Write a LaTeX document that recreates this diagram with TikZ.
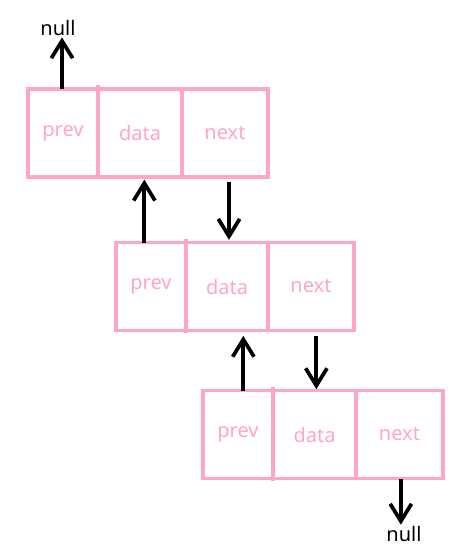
\documentclass[tikz,border=0pt]{standalone}
\usepackage{fontspec}
\setmainfont{Noto Sans}
\usetikzlibrary{arrows.meta, positioning}
\definecolor{listpink}{RGB}{255,166,198}
\tikzstyle{cell} = [rectangle, draw=listpink, line width=2.6pt, text=listpink, minimum height=66pt, outer sep=0pt, inner sep=0pt, font=\fontsize{15}{17}\selectfont]
\tikzstyle{divider} = [draw=listpink, line width=2.6pt]
\tikzstyle{link} = [line width=2.8pt, -{Straight Barb[length=13pt,width=16pt]}]
\tikzstyle{nulltext} = [inner sep=1pt, font=\fontsize{15}{17}\selectfont]

\begin{document}
\begin{tikzpicture}[x=0.75pt, y=-0.75pt]
    \useasboundingbox (0,0) rectangle (459,556);

    % first node
    \node (p1) [cell, minimum width=52.5pt] at (63,133) {prev};
    \node (d1) [cell, minimum width=63pt, right=0pt of p1] {data};
    \node (n1) [cell, minimum width=64.5pt, right=0pt of d1] {next};
    \draw[divider] ([yshift=3pt]d1.north west) -- ([yshift=-1.5pt]d1.south west);

    % second node
    \node (p2) [cell, minimum width=52.5pt] at (151,286.5) {prev};
    \node (d2) [cell, minimum width=61.5pt, right=0pt of p2] {data};
    \node (n2) [cell, minimum width=64.5pt, right=0pt of d2] {next};
    \draw[divider] ([yshift=3pt]d2.north west) -- ([yshift=-1.5pt]d2.south west);

    % third node
    \node (p3) [cell, minimum width=52.5pt] at (238,434.5) {prev};
    \node (d3) [cell, minimum width=62.25pt, right=0pt of p3] {data};
    \node (n3) [cell, minimum width=65.25pt, right=0pt of d3] {next};
    \draw[divider] ([yshift=3pt]d3.north west) -- ([yshift=-1.5pt]d3.south west);

    \node (null1) [nulltext] at (58,28) {null};
    \node (null2) [nulltext] at (404,534) {null};

    % links
    \draw[link] ([xshift=-0.75pt]p1.north) -- ([xshift=-0.75pt]p1.north |- null1.south);
    \draw[link, shorten >=2pt] ([xshift=-5pt]p2.north) -- ([xshift=-5pt]p2.north |- d1.south);
    \draw[link, shorten <=4pt, shorten >=2pt] ([xshift=3pt]n1.south) -- ([xshift=3pt]n1.south |- d2.north);
    \draw[link, shorten >=4pt] ([xshift=4pt]p3.north) -- ([xshift=4pt]p3.north |- d2.south);
    \draw[link, shorten <=4pt, shorten >=1pt] ([xshift=4pt]n2.south) -- ([xshift=4pt]n2.south |- d3.north);
    \draw[link] ([xshift=1pt]n3.south) -- ([xshift=1pt]n3.south |- null2.north);
\end{tikzpicture}
\end{document}
